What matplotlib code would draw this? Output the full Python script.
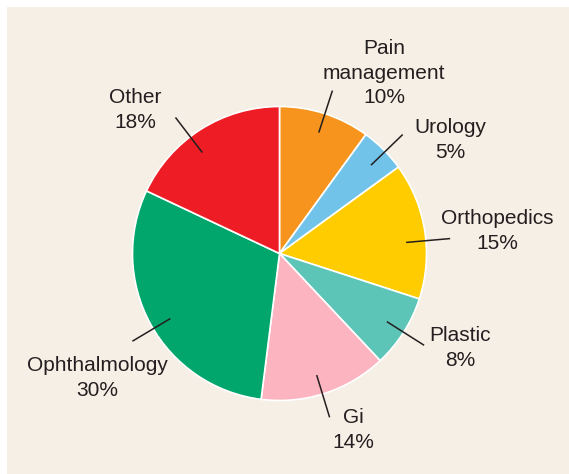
import numpy as np
import matplotlib
matplotlib.use("Agg")
import matplotlib.pyplot as plt
from matplotlib.patches import Rectangle

# ------------------------------------------------------------
# data
# ------------------------------------------------------------
specialties = ["Pain\nmanagement", "Urology", "Orthopedics", "Plastic",
               "Gi", "Ophthalmology", "Other"]
shares = [10, 5, 15, 8, 14, 30, 18]
colors = ["#F7941D", "#72C3EA", "#FFCC00", "#5CC5B7",
          "#FDB4C1", "#00A66B", "#EE1C25"]

# ------------------------------------------------------------
# figure (axes in pixel units, origin bottom-left)
# ------------------------------------------------------------
W, H = 569, 474
fig = plt.figure(figsize=(W / 100, H / 100), dpi=100)
fig.patch.set_facecolor("white")

# beige panel, white margin on top and left only
fig.add_artist(Rectangle((7 / W, 0), 1.0, 1 - 7 / H, transform=fig.transFigure,
                         facecolor="#F6EFE5", edgecolor="none", zorder=0))

ax = fig.add_axes([0, 0, 1, 1])
ax.patch.set_alpha(0)

center = (279.5, H - 253.5)
radius = 147

wedges, _ = ax.pie(shares, colors=colors, startangle=90, counterclock=False,
                   center=center, radius=radius, frame=True,
                   wedgeprops=dict(edgecolor="white", linewidth=1.2))
ax.set_xlim(0, W)
ax.set_ylim(0, H)
ax.set_aspect("equal")
ax.axis("off")

# label block centres (pixels from top-left) and leader angle nudges (deg)
label_xy = [(384, 73), (450, 140), (497, 231), (460, 348),
            (353, 430), (97, 378), (135, 110)]
nudge = [0, -1, -4, 0, -1, 2, 5]

for w, name, val, (tx, ty), dn in zip(wedges, specialties, shares,
                                       label_xy, nudge):
    mid = np.deg2rad((w.theta1 + w.theta2) / 2 + dn)
    r0, r1 = 0.87 * radius, 1.16 * radius
    ax.plot([center[0] + r0 * np.cos(mid), center[0] + r1 * np.cos(mid)],
            [center[1] + r0 * np.sin(mid), center[1] + r1 * np.sin(mid)],
            color="#231F20", lw=1.1, zorder=5)
    ax.text(tx, H - ty, f"{name}\n{val}%", ha="center", va="center",
            fontsize=15, color="#231F20", linespacing=1.38,
            family=["Liberation Sans", "DejaVu Sans"])

plt.savefig("out.png", dpi=100, facecolor=fig.get_facecolor())
